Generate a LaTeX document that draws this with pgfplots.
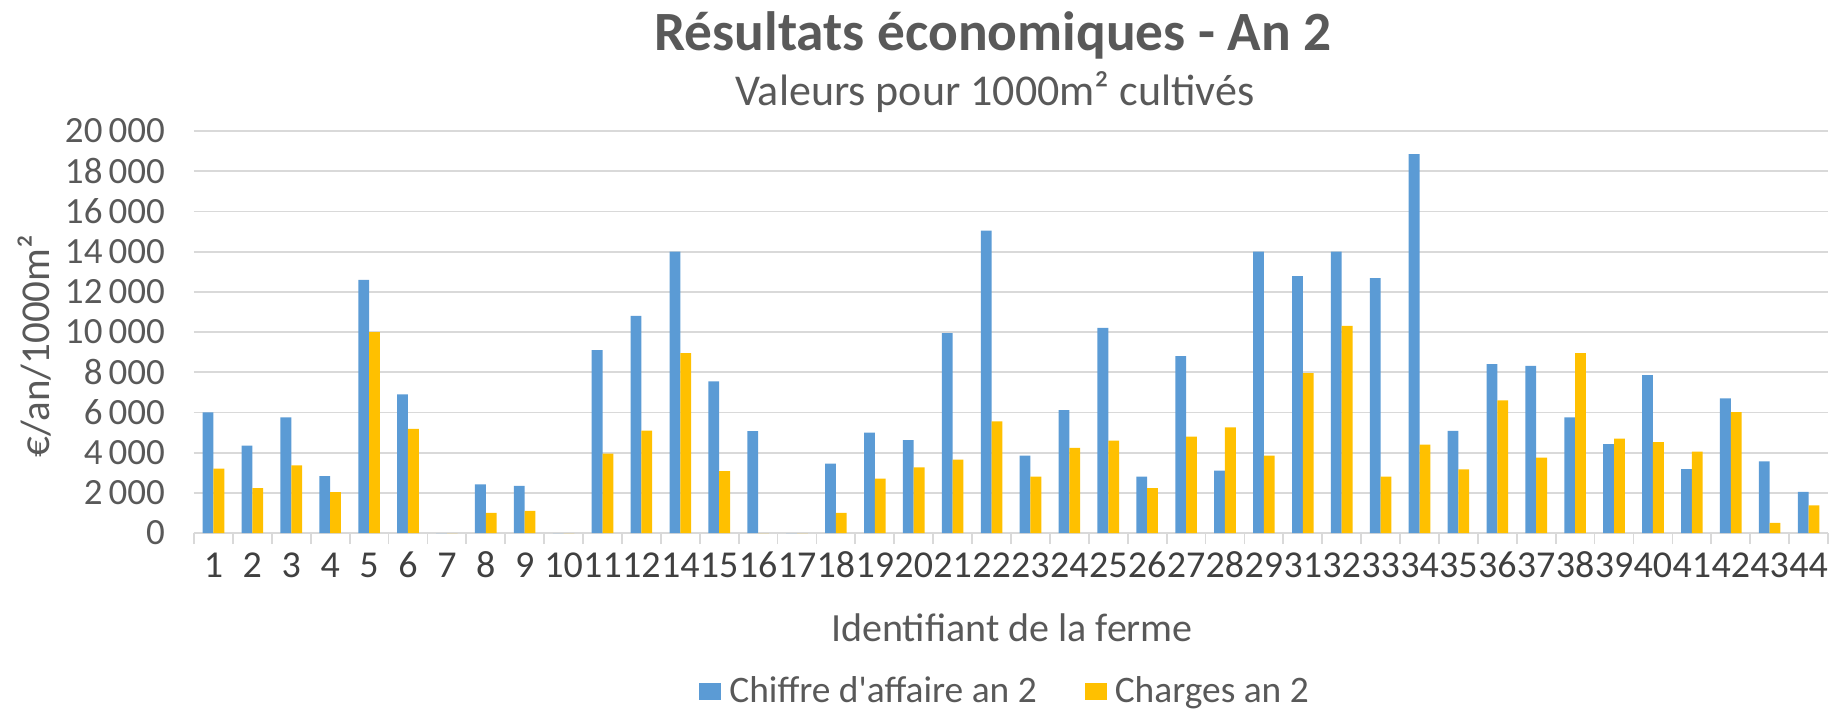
\documentclass[border=0pt]{standalone}
\usepackage{fontspec}
\setmainfont{Carlito}[Ligatures=TeXOff]
\usepackage{pgfplots}
\pgfplotsset{compat=1.18}
\definecolor{cablue}{RGB}{91,155,213}
\definecolor{chyellow}{RGB}{255,192,0}
\definecolor{txtgray}{RGB}{89,89,89}
\definecolor{darkgray}{RGB}{64,64,64}
\definecolor{gridgray}{RGB}{217,217,217}
\pgfplotstableread{
x ca ch
0 6000 3200
1 4350 2230
2 5750 3370
3 2830 2030
4 12600 10000
5 6900 5180
6 0 0
7 2420 1000
8 2340 1100
9 0 0
10 9100 3950
11 10800 5100
12 14000 8950
13 7550 3080
14 5070 0
15 0 0
16 3450 1000
17 5000 2700
18 4620 3270
19 9950 3650
20 15050 5550
21 3850 2800
22 6120 4230
23 10200 4600
24 2800 2230
25 8800 4800
26 3100 5250
27 14000 3850
28 12780 7950
29 14000 10300
30 12680 2800
31 18850 4400
32 5080 3170
33 8400 6600
34 8320 3750
35 5750 8950
36 4420 4700
37 7850 4520
38 3180 4050
39 6700 6020
40 3570 500
41 2050 1370
}\datatable
\begin{document}
\begin{tikzpicture}
\useasboundingbox (-97pt,-90.5pt) rectangle (823pt,266.5pt);
\begin{axis}[
  scale only axis, width=817pt, height=201pt,
  ymin=0, ymax=20000, ytick={0,2000,...,20000},
  scaled y ticks=false,
  xmin=-0.5, xmax=41.5,
  xtick={0,...,41},
  xticklabels={1,2,3,4,5,6,7,8,9,10,11,12,14,15,16,17,18,19,20,21,22,23,24,25,26,27,28,29,31,32,33,34,35,36,37,38,39,40,41,42,43,44},
  minor xtick={-0.5,0.5,...,41.5},
  ybar=0pt, bar width=5.4pt,
  separate axis lines,
  axis x line*=bottom, axis y line*=left,
  y axis line style={draw=none},
  x axis line style={gridgray, line width=0.9pt},
  ymajorgrids, major grid style={gridgray, line width=0.9pt},
  major tick length=0pt, minor tick length=5.5pt, tick align=outside,
  minor tick style={gridgray, line width=0.9pt},
  ytick style={draw=none},
  yticklabel={\pgfmathprintnumber[fixed, precision=0, 1000 sep={\,}, assume math mode=true]{\tick}},
  yticklabel style={font=\fontsize{18.5}{22}\selectfont, text=txtgray, xshift=-11pt},
  xticklabel style={font=\fontsize{19}{22}\selectfont, text=darkgray, anchor=base, yshift=-22pt},
  legend style={at={(0.497,-0.392)}, anchor=center, draw=none, legend columns=2,
    font=\fontsize{18.7}{22}\selectfont, text=txtgray,
    /tikz/every even column/.append style={column sep=22pt}},
]
\addplot[fill=cablue, draw=none, legend image code/.code={\fill[cablue] (0pt,-4.7pt) rectangle (11pt,3.8pt); \path (13pt,0pt);}] table[x=x, y=ca] {\datatable};
\addlegendentry{Chiffre d'affaire an 2}
\addplot[fill=chyellow, draw=none, legend image code/.code={\fill[chyellow] (0pt,-4.7pt) rectangle (11pt,3.8pt); \path (13pt,0pt);}] table[x=x, y=ch] {\datatable};
\addlegendentry{Charges an 2}
\end{axis}
\node[font=\bfseries\fontsize{27.7}{32}\selectfont, text=txtgray] at (399.5pt,249pt) {Résultats économiques - An 2};
\node[font=\fontsize{22}{26}\selectfont, text=txtgray] at (400.5pt,220.5pt) {Valeurs pour 1000m² cultivés};
\node[font=\fontsize{20}{24}\selectfont, text=txtgray] at (409pt,-47.5pt) {Identifiant de la ferme};
\node[font=\fontsize{20.5}{24}\selectfont, text=txtgray, rotate=90] at (-79.5pt,93.5pt) {€/an/1000m²};
\end{tikzpicture}
\end{document}
